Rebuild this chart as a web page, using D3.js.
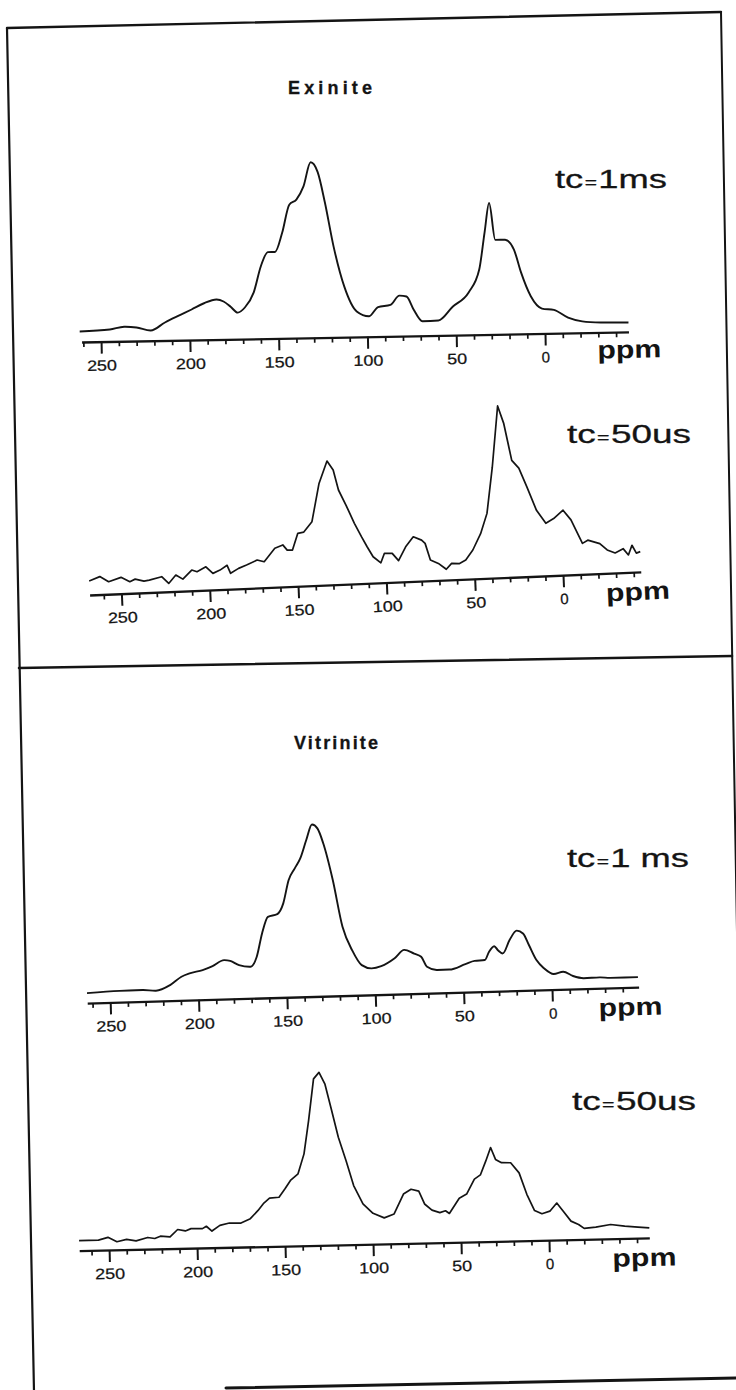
<!DOCTYPE html>
<html><head><meta charset="utf-8">
<script src="https://cdn.jsdelivr.net/npm/d3@7"></script>
<style>
html,body{margin:0;padding:0;background:#fff;}
svg{display:block;}
</style></head><body>
<svg id="chart" width="736" height="1390"></svg>
<script>
// ---------------- data ----------------
const majorTicks = [250, 200, 150, 100, 50, 0];
const tickLabels = ["250", "200", "150", "100", "50", "0"];
const titles = ["Exinite", "Vitrinite"];
const tcLabels = [["tc", "=", "1ms"], ["tc", "=", "50us"], ["tc", "=", "1 ms"], ["tc", "=", "50us"]];
const unitLabel = "ppm";

// Exinite, tc = 1 ms
const exi1Ppm = [262,245,237,230,222,214,205,199,192,185,181,177,173,169,164,160,156,152,148,144,140,136,132,128,124,119,113,106,99,94,87,82,78,74,69,60,52,43,37,34,31.5,28,22.5,17.5,13.5,8,1.7,-5,-13,-21,-31.5,-47];
const exi1Int = [1,2.5,5,4,0.7,8.5,16,21,27,30.5,28.4,23,17,22,37,63,77,77,96,124,129,142,166,156,126,81,41,16,11,20,22,31,30,17,5,5.5,19,33,56,93,122,85,85,75,52,28,15.5,14,6,2,0.5,0];

// Exinite, tc = 50 us
const exi2Ppm = [268,262,257,250,245,242,237,234,227,223,219,215,210,207,202,198,194,190,188,183.5,179,173,169,166,163,158.5,156,153,150,146.6,142,138,133.5,130,127,122.7,118,114,110.8,107.4,103,101,96.6,93,89,84.7,80,78,75,70.5,66,63,58.5,55,51,46.6,43,40,37,33.5,29,25,20.5,15,9.7,5.3,0,-4.5,-11,-14,-20.8,-25,-29.5,-34,-37,-39,-41.5,-43.7];
const exi2Int = [0,4,-1.5,2.4,-2.4,0,-2.3,-1.6,1.3,-5.7,2.4,-2,6.7,4.8,9.4,2.5,5.5,10,1.8,6.4,9.4,14,12,18.5,25,28,22.7,22.5,39,40,50,88,110,100.8,80.6,65,46.6,33,22.7,12.4,6,15.4,15,7.4,21,30.7,27,23.6,6.7,3,-3.2,2.5,2,5.3,15,31,51,97,158,140,103,95,76,52,38.6,43,51,41,17,20,16,9.4,6,10,3.5,13,5,6.3];

// Vitrinite, tc = 1 ms
const vit1Ppm = [263,244.5,231.6,224,216,209.6,205,197.6,192,185.5,182,177,170.5,167,164,160.7,155.4,152,149,145.5,142.4,139,135.8,132.7,129.4,124,118.5,113,107.6,102,96.6,89,83.6,78,74,70.7,65,58,49,43.8,38,35.6,32.7,30.6,27.8,24,20,16.4,13,8.8,4.5,-1,-6.3,-11.9,-18,-27,-33,-48.6];
const vit1Int = [0,1.3,1.4,0.3,5.6,13.6,16.7,19.7,23.4,29,28,23.6,21.6,31.4,54.6,71,73.5,84,107,118.7,128.5,146.7,162,158,143,106,59,35,20,16.5,18.5,26,34,30,26.7,16.5,13,13,18,21,21.5,29.7,35,31,27.6,40.8,50,47,35,20,11.5,5.5,7.6,3,0.5,0.8,0,0];

// Vitrinite, tc = 50 us
const vit2Ppm = [267,256,250.6,245.5,240,234.6,228,224,220.8,215.3,211,206.6,203.4,196.9,194.7,191.5,187,181.6,175,169.7,165.3,162,158.8,153.4,150,146.9,142.6,139.2,136.6,133.8,130.7,127.3,124,119.7,115.3,111,105.7,100,93.6,88,82.7,78.4,74,70.7,66.5,62,58.8,56.6,51,46.8,42.4,39,35.9,33.2,30.4,27,21.8,17,12.6,8.2,4,-0.5,-4.4,-8,-12.5,-16.8,-20,-26.6,-35,-43,-50.6,-57];
const vit2Int = [0,0.2,2.7,-1.9,0.2,-1.4,1.7,0.5,2.7,1.8,9,7.4,9.6,9.3,11.6,6.7,12.2,14.3,14,18.2,26.3,33.5,38.3,39,47.3,55.5,62,81.8,115,156.6,163,151,128,97.6,74,49,30.4,20.8,16,19.7,39.4,44,42,29,22.7,20,21.7,19,34,38,52.7,56.8,70.7,84,72,68.6,68.3,58,36.4,20,16.6,19,27,18.8,8.6,5,1,2,4.3,2.3,1,0];

// ---------------- layout ----------------
const INK = "#141414";
const FONT = "'Liberation Sans', Arial, Helvetica, sans-serif";
const svg = d3.select("#chart");

// frame (scanned page, slightly tilted)
const frame = svg.append("g").attr("stroke", INK).attr("fill", "none").attr("stroke-linecap", "round");
frame.append("line").attr("x1", 7).attr("y1", 28).attr("x2", 721).attr("y2", 12).attr("stroke-width", 2.4);
frame.append("line").attr("x1", 7).attr("y1", 28).attr("x2", 34).attr("y2", 1392).attr("stroke-width", 2.2);
frame.append("line").attr("x1", 721).attr("y1", 12).attr("x2", 745).attr("y2", 1392).attr("stroke-width", 2);
frame.append("line").attr("x1", 19).attr("y1", 668).attr("x2", 732).attr("y2", 656).attr("stroke-width", 2.6);
frame.append("line").attr("x1", 226).attr("y1", 1388).attr("x2", 740).attr("y2", 1378).attr("stroke-width", 3);

// titles
svg.append("text").attr("x", 330).attr("y", 94).attr("text-anchor", "middle")
  .attr("font-family", FONT).attr("font-weight", "bold").attr("font-size", 18)
  .attr("textLength", 84).attr("lengthAdjust", "spacing")
  .attr("stroke", INK).attr("stroke-width", 0.3)
  .attr("fill", INK).text(titles[0]);
svg.append("text").attr("x", 336).attr("y", 749).attr("text-anchor", "middle")
  .attr("font-family", FONT).attr("font-weight", "bold").attr("font-size", 18)
  .attr("textLength", 84).attr("lengthAdjust", "spacing")
  .attr("stroke", INK).attr("stroke-width", 0.3)
  .attr("fill", INK).text(titles[1]);

const panels = [
  {ppm: exi1Ppm, inten: exi1Int, smooth: true,  x0: 545, k: 1.776, axisY: 333.5, angle: -1.05, baseOff: 9.5, domain: [261, -47],
   tc: tcLabels[0], tcX: 555, tcY: 188, tcW: 112, ppmX: 597, ppmDy: 26},
  {ppm: exi2Ppm, inten: exi2Int, smooth: false, x0: 563, k: 1.768, axisY: 575.2, angle: -2.4, baseOff: 14, domain: [268, -44],
   tc: tcLabels[1], tcX: 567, tcY: 443, tcW: 124, ppmX: 605, ppmDy: 28},
  {ppm: vit1Ppm, inten: vit1Int, smooth: true,  x0: 552, k: 1.768, axisY: 989.6, angle: -1.66, baseOff: 10, domain: [263, -49],
   tc: tcLabels[2], tcX: 567, tcY: 867, tcW: 122, ppmX: 598, ppmDy: 28},
  {ppm: vit2Ppm, inten: vit2Int, smooth: false, x0: 549, k: 1.76, axisY: 1240.2, angle: -1.28, baseOff: 10, domain: [267, -57],
   tc: tcLabels[3], tcX: 572, tcY: 1110, tcW: 124, ppmX: 612, ppmDy: 28}
];

panels.forEach(cfg => {
  const x = d3.scaleLinear().domain(cfg.domain)
    .range([cfg.x0 - cfg.k * cfg.domain[0], cfg.x0 - cfg.k * cfg.domain[1]]);
  const baseY = cfg.axisY - cfg.baseOff;
  const y = d3.scaleLinear().domain([0, 100]).range([baseY, baseY - 100]);
  // axis group: rotated like the scanned page
  const g = svg.append("g").attr("transform", `rotate(${cfg.angle},${cfg.x0},${cfg.axisY})`);
  const gs = svg.append("g").attr("transform",
    `translate(${cfg.x0},${cfg.axisY}) skewY(${cfg.angle}) translate(${-cfg.x0},${-cfg.axisY})`);

  // minor ticks every 10 ppm
  const minor = d3.range(-60, 280, 10).filter(v => v <= cfg.domain[0] && v >= cfg.domain[1] && !majorTicks.includes(v));
  const mg = g.append("g").attr("transform", `translate(0,${cfg.axisY})`)
    .call(d3.axisBottom(x).tickValues(minor).tickSize(5).tickSizeOuter(0).tickFormat(""));
  mg.select(".domain").remove();
  mg.selectAll("line").attr("stroke", INK).attr("stroke-width", 1.7);

  // major ticks + labels
  const ag = g.append("g").attr("transform", `translate(0,${cfg.axisY})`)
    .call(d3.axisBottom(x).tickValues(majorTicks).tickSize(12).tickSizeOuter(0)
      .tickFormat((d, i) => tickLabels[i]));
  ag.select(".domain").attr("stroke", INK).attr("stroke-width", 2.3);
  ag.selectAll("line").attr("stroke", INK).attr("stroke-width", 2);
  ag.selectAll("text")
    .attr("y", 29).attr("dy", 0)
    .attr("font-family", FONT).attr("font-size", 15).attr("fill", INK)
    .attr("stroke", INK).attr("stroke-width", 0.25)
    .each(function(d, i) {
      const s = tickLabels[i];
      if (s.length > 1) d3.select(this).attr("textLength", s.length * 10).attr("lengthAdjust", "spacingAndGlyphs");
    });

  // spectrum
  const pts = cfg.ppm.map((p, i) => [p, cfg.inten[i]]);
  const line = d3.line().x(d => x(d[0])).y(d => y(d[1]))
    .curve(cfg.smooth ? d3.curveMonotoneX : d3.curveLinear);
  gs.append("path").datum(pts).attr("d", line)
    .attr("fill", "none").attr("stroke", INK)
    .attr("stroke-width", cfg.smooth ? 1.9 : 1.7).attr("stroke-linejoin", "round");

  // unit
  g.append("text").attr("x", cfg.ppmX).attr("y", cfg.axisY + cfg.ppmDy)
    .attr("font-family", FONT).attr("font-weight", "bold").attr("font-size", 25)
    .attr("textLength", 64).attr("lengthAdjust", "spacingAndGlyphs").attr("fill", INK).text(unitLabel);

  // contact time label
  const t = svg.append("text").attr("x", cfg.tcX).attr("y", cfg.tcY)
    .attr("font-family", FONT).attr("font-size", 26).attr("fill", INK)
    .attr("stroke", INK).attr("stroke-width", 0.3)
    .attr("textLength", cfg.tcW).attr("lengthAdjust", "spacingAndGlyphs");
  t.append("tspan").text(cfg.tc[0]);
  t.append("tspan").attr("font-size", 15).attr("dx", 1).text(cfg.tc[1]);
  t.append("tspan").attr("dx", 1).text(cfg.tc[2]);
});
</script>
</body></html>
